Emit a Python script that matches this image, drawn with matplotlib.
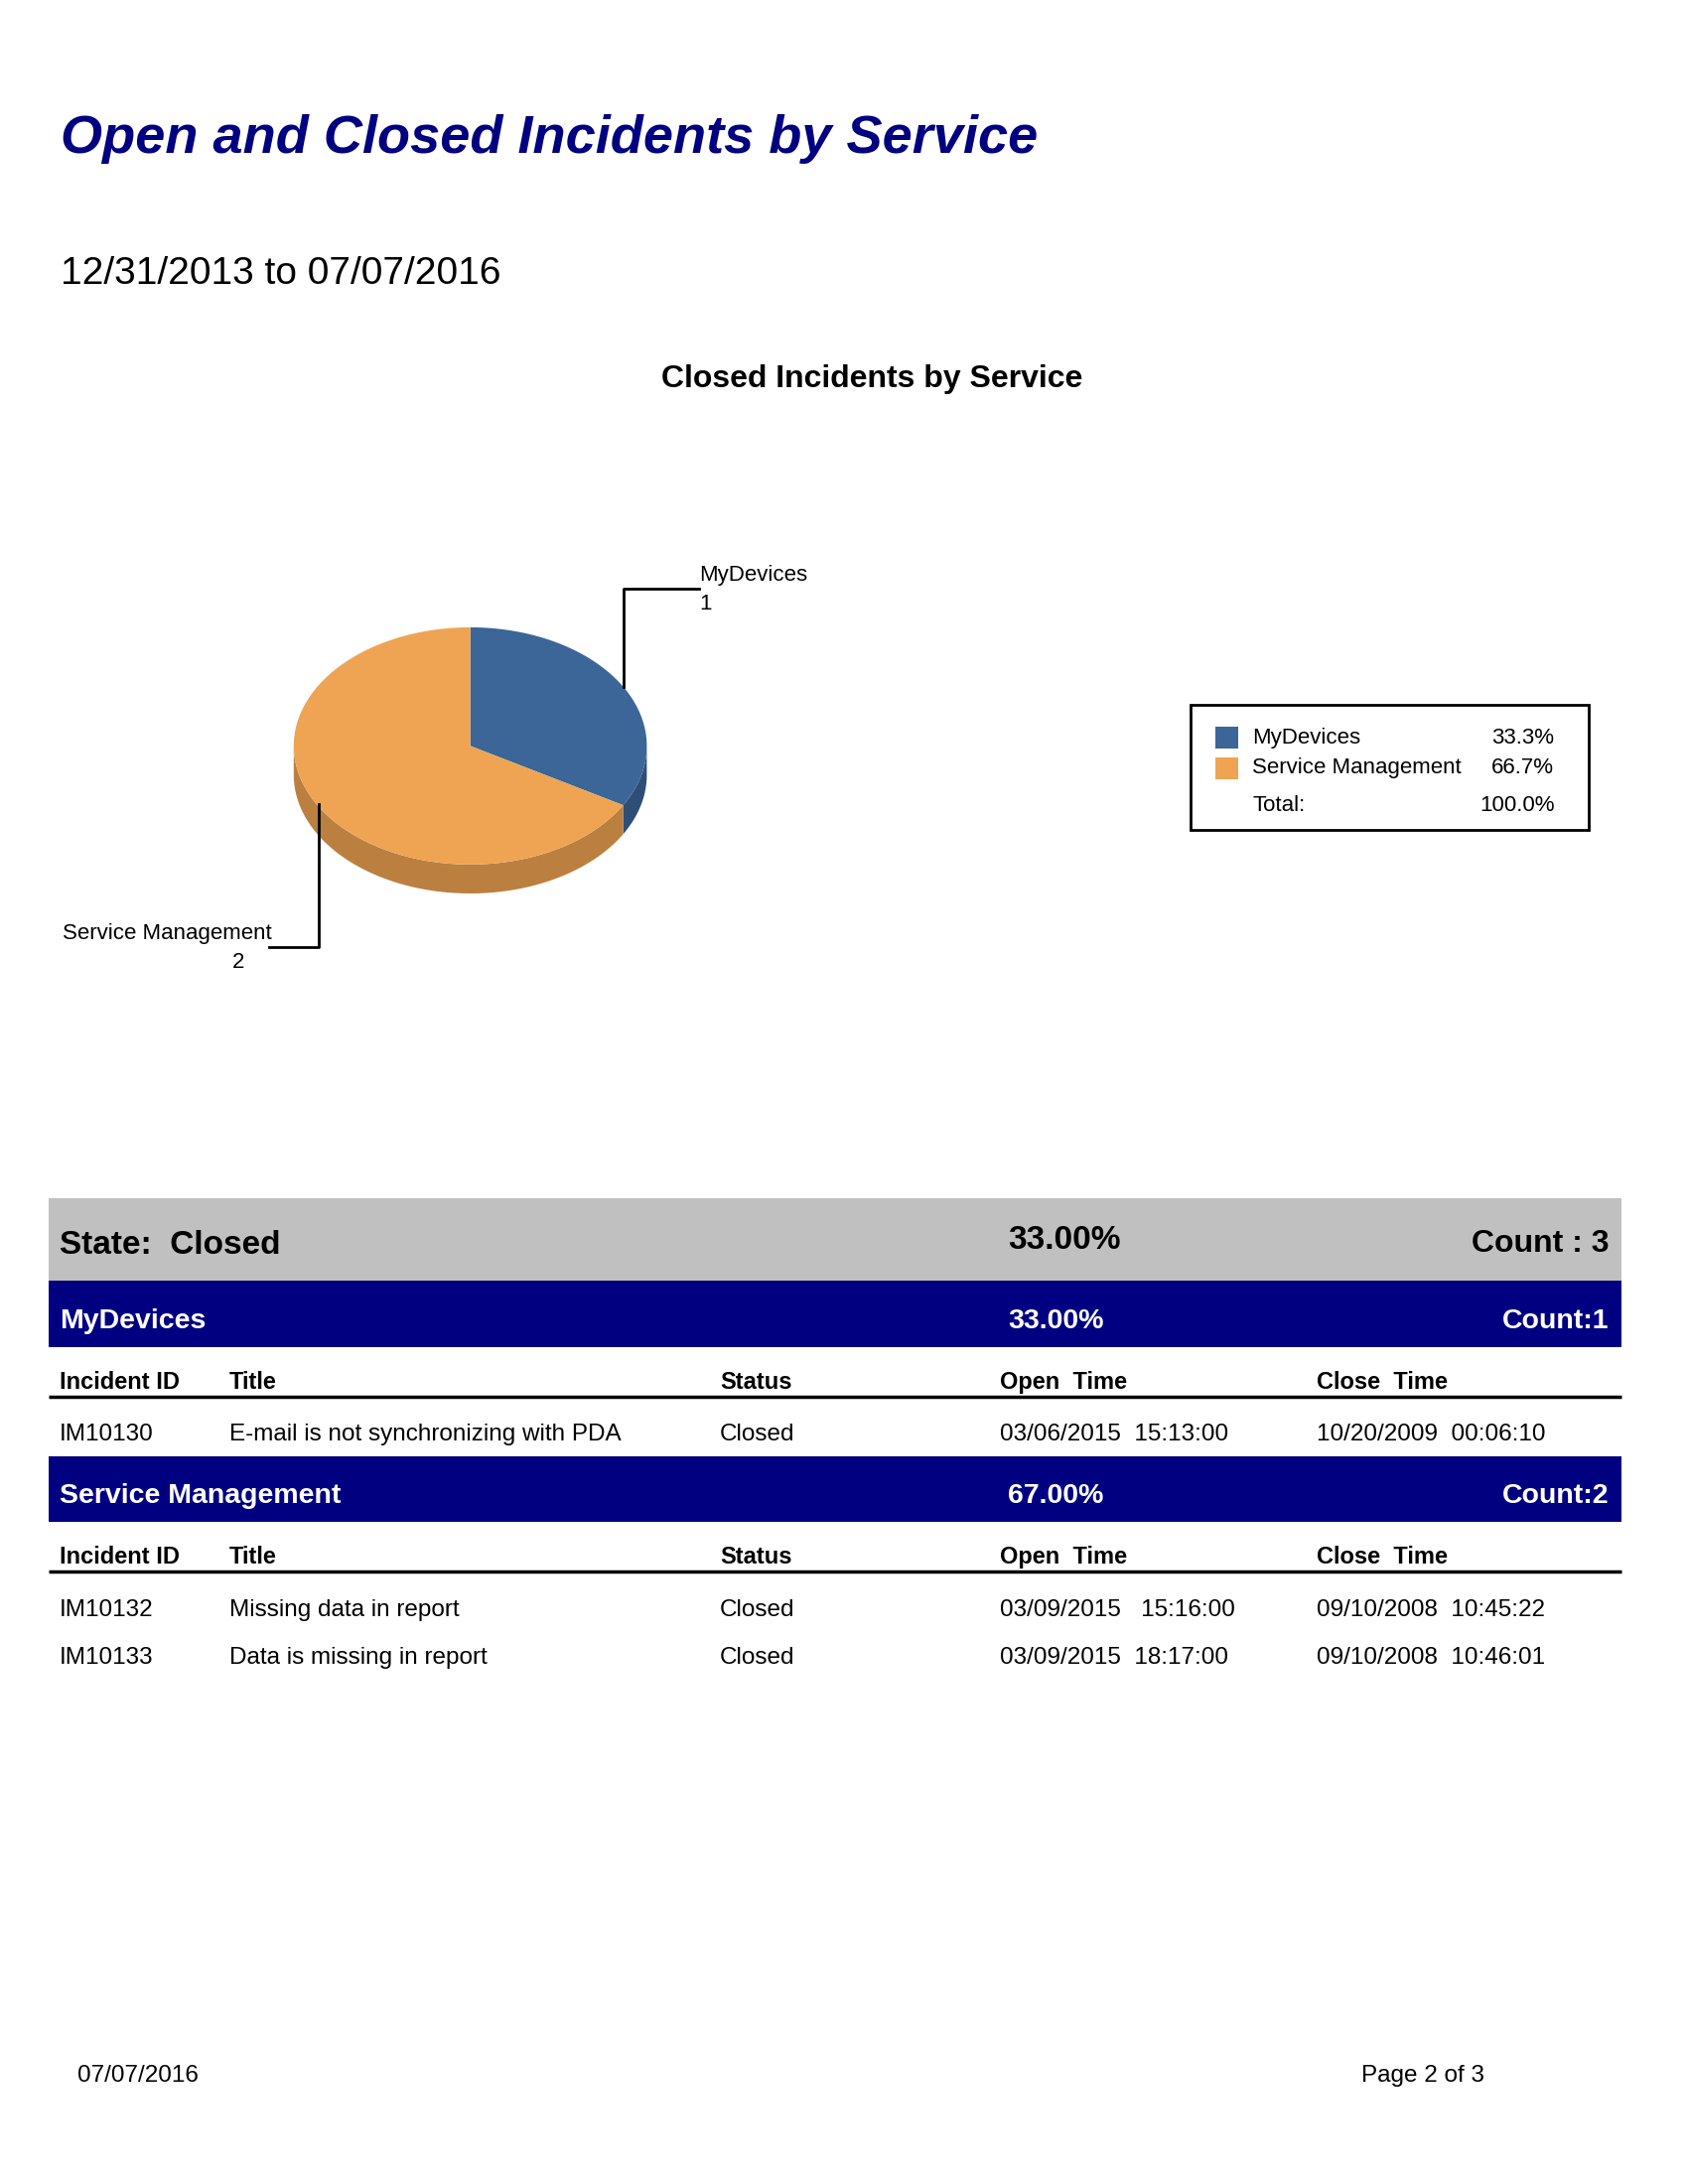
import numpy as np
import matplotlib
matplotlib.use("Agg")
import matplotlib.pyplot as plt
from matplotlib.patches import Polygon, Rectangle

plt.rcParams['font.family'] = ['Liberation Sans', 'DejaVu Sans']

# data
services = ['MyDevices', 'Service Management']
counts = [1, 2]
group_pcts = ['33.00%', '67.00%']
pie_colors = ['#3b6697', '#efa453']
side_colors = ['#2d4f77', '#bb8040']

state_name = 'Closed'
state_pct = '33.00%'
state_count = 3

columns = ['Incident ID', 'Title', 'Status', 'Open  Time', 'Close  Time']
incidents = {
    'MyDevices': [
        ['IM10130', 'E-mail is not synchronizing with PDA', 'Closed',
         '03/06/2015  15:13:00', '10/20/2009  00:06:10'],
    ],
    'Service Management': [
        ['IM10132', 'Missing data in report', 'Closed',
         '03/09/2015   15:16:00', '09/10/2008  10:45:22'],
        ['IM10133', 'Data is missing in report', 'Closed',
         '03/09/2015  18:17:00', '09/10/2008  10:46:01'],
    ],
}

NAVY = '#000080'

fig = plt.figure(figsize=(17, 22), dpi=100)
ax = fig.add_axes([0, 0, 1, 1])
ax.set_xlim(0, 1224)
ax.set_ylim(1584, 0)
ax.axis('off')

# page header
ax.text(44, 111, 'Open and Closed Incidents by Service', fontsize=39,
        fontweight='bold', fontstyle='italic', color=NAVY)
ax.text(44, 206, '12/31/2013 to 07/07/2016', fontsize=28)
ax.text(632, 281, 'Closed Incidents by Service', fontsize=23,
        fontweight='bold', ha='center')

# 3d-ish pie
cx, cy, rx, ry, depth = 341, 541, 128, 86, 21
total = sum(counts)
start = 90.0
angles = []
for c in counts:
    sweep = 360.0 * c / total
    angles.append((start - sweep, start))
    start -= sweep


def ell(t):
    t = np.radians(t)
    return cx + rx * np.cos(t), cy - ry * np.sin(t)


# sides (front half only, 180..360 deg)
for (a0, a1), col in zip(angles, side_colors):
    for off in (0, 360, -360):
        lo, hi = max(a0 + off, 180), min(a1 + off, 360)
        if hi > lo:
            t = np.linspace(lo, hi, 100)
            x, y = ell(t)
            pts = np.column_stack([np.r_[x, x[::-1]],
                                   np.r_[y, y[::-1] + depth]])
            ax.add_patch(Polygon(pts, closed=True, fc=col, ec='none'))

for (a0, a1), col in zip(angles, pie_colors):
    t = np.linspace(a0, a1, 200)
    x, y = ell(t)
    pts = np.column_stack([np.r_[cx, x], np.r_[cy, y]])
    ax.add_patch(Polygon(pts, closed=True, fc=col, ec='none'))

# leader labels
ax.plot([452, 452, 507], [498, 427, 427], color='black', lw=2)
ax.text(507, 421, services[0], fontsize=16)
ax.text(507, 442, str(counts[0]), fontsize=16)
ax.plot([231, 231, 195], [583, 687, 687], color='black', lw=2)
ax.text(197, 681, services[1], fontsize=16, ha='right')
ax.text(177, 702, str(counts[1]), fontsize=16, ha='right')

# legend box
ax.add_patch(Rectangle((863, 511), 289, 91, fc='white', ec='black', lw=2))
for i, (s, c, col) in enumerate(zip(services, counts, pie_colors)):
    yb = 539 + 22 * i
    ax.add_patch(Rectangle((881, yb - 12), 17, 16, fc=col, ec='none'))
    ax.text(908, yb, s, fontsize=16)
    ax.text(1127, yb, f'{100 * c / total:.1f}%', fontsize=16, ha='right')
ax.text(908, 588, 'Total:', fontsize=16)
ax.text(1127, 588, f'{100 * sum(counts) / total:.1f}%', fontsize=16, ha='right')

# table
L, R = 35, 1176
ax.add_patch(Rectangle((L, 869), R - L, 60, fc='#c0c0c0', ec='none'))
ax.text(43, 909, f'State:  {state_name}', fontsize=24, fontweight='bold')
ax.text(731, 906, state_pct, fontsize=24, fontweight='bold')
ax.text(1167, 908, f'Count : {state_count}', fontsize=23, fontweight='bold',
        ha='right')

col_x = [43, 166, 522, 725, 955]
band_top = 929
for s, pct, c in zip(services, group_pcts, counts):
    ax.add_patch(Rectangle((L, band_top), R - L, 48, fc=NAVY, ec='none'))
    ax.text(43, band_top + 34, s, fontsize=20.5, fontweight='bold', color='white')
    ax.text(731, band_top + 34, pct, fontsize=20.5, fontweight='bold',
            color='white')
    ax.text(1167, band_top + 34, f'Count:{c}', fontsize=20.5,
            fontweight='bold', color='white', ha='right')
    hy = band_top + 78
    for x, h in zip(col_x, columns):
        ax.text(x, hy, h, fontsize=17, fontweight='bold')
    ax.plot([L, R], [hy + 6, hy + 6], color='black', lw=2.5,
            solid_capstyle='butt')
    ry_ = hy + 38
    for row in incidents[s]:
        for x, v in zip(col_x, row):
            ax.text(x, ry_, v, fontsize=17.5)
        ry_ += 35
    band_top = ry_ - 35 + 11

# footer
ax.text(56, 1510, '07/07/2016', fontsize=17.5)
ax.text(987, 1510, 'Page 2 of 3', fontsize=17.5)

fig.savefig('out.png', dpi=100, facecolor='white')
